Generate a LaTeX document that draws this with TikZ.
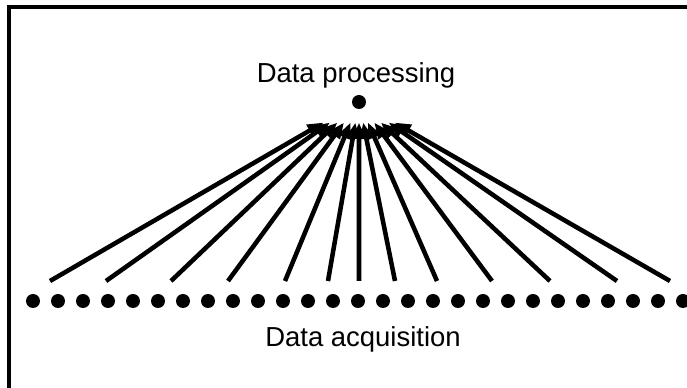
\documentclass[tikz,border=0pt]{standalone}
\usepackage{fontspec}
\setmainfont{Liberation Sans}
\usetikzlibrary{arrows.meta,calc}
\begin{document}
\begin{tikzpicture}[x=0.75pt,y=-0.75pt,
  dot/.style={circle,fill=black,inner sep=0pt,minimum size=10.5pt},
  lbl/.style={font=\fontsize{20.6}{24}\selectfont,anchor=base,inner sep=0pt},
  feed/.style={line width=3.4pt,-{Triangle[length=12pt,width=9.5pt]}}]
\useasboundingbox (0,0) rectangle (687,388);
% open frame: left and top edges
\draw[line width=3.2pt] (9,400) -- (9,7) -- (700,7);
% acquisition points
\foreach \k in {0,...,26}
  \node[dot] (d\k) at ({33+25*\k},301) {};
% processing point and captions
\node[dot] (p) at (359,102) {};
\node[lbl] (ptext) at (356,83) {Data processing};
\node[lbl] (atext) at (363,347) {Data acquisition};
% data flow arrows
\foreach \x [count=\i] in {50,106,171,228,285,328,359,395,437,492,550,617,670} {
  \coordinate (t\i) at (\x,281);
  \draw[feed] (t\i) -- ($(t\i)!0.885!(p.center)$);
}
\end{tikzpicture}
\end{document}
